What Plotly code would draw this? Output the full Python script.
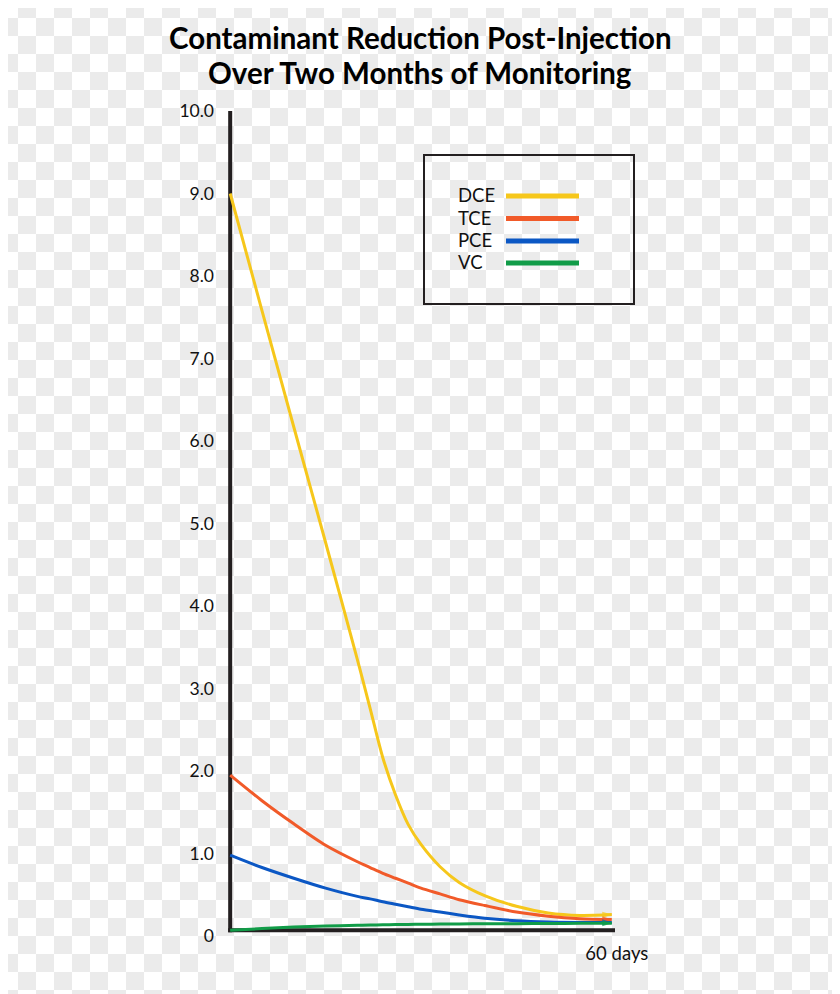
import base64
import plotly.graph_objects as go

# ---- data ----
days = [0, 5, 10, 15, 20, 22, 24, 26, 28, 30, 33, 36, 40, 45, 50, 55, 60]
dce = [9.0, 7.58, 6.17, 4.77, 3.35, 2.76, 2.16, 1.71, 1.35, 1.11, 0.84, 0.65, 0.49, 0.36, 0.28, 0.25, 0.26]
tce = [1.95, 1.64, 1.36, 1.10, 0.90, 0.83, 0.76, 0.70, 0.64, 0.58, 0.51, 0.44, 0.37, 0.29, 0.24, 0.21, 0.20]
pce = [0.98, 0.83, 0.70, 0.58, 0.48, 0.45, 0.415, 0.385, 0.355, 0.325, 0.29, 0.255, 0.215, 0.185, 0.17, 0.165, 0.165]
vc = [0.07, 0.09, 0.108, 0.12, 0.13, 0.133, 0.136, 0.138, 0.14, 0.142, 0.144, 0.146, 0.148, 0.15, 0.152, 0.154, 0.155]

series_names = ["DCE", "TCE", "PCE", "VC"]
series_values = [dce, tce, pce, vc]
series_colors = ["#f6c71b", "#f15a29", "#0b57c4", "#119c48"]

y_tickvals = [0, 1, 2, 3, 4, 5, 6, 7, 8, 9, 10]
y_ticktext = ["0", "1.0", "2.0", "3.0", "4.0", "5.0", "6.0", "7.0", "8.0", "9.0", "10.0"]
x_tickvals = [60]
x_ticktext = ["60 days"]

title_lines = ["Contaminant Reduction Post-Injection", "Over Two Months of Monitoring"]

# ---- layout geometry (page pixels; the page body adds an 8px margin) ----
OFF = 8
PAGE_W, PAGE_H = 840, 994
W, H = PAGE_W - OFF, PAGE_H - OFF
PLOT_L, PLOT_R, PLOT_T, PLOT_B = 227, 615, 111, 936   # page pixels
ML, MR, MT, MB = PLOT_L - OFF, PAGE_W - PLOT_R, PLOT_T - OFF, PAGE_H - PLOT_B
PW, PH = W - ML - MR, H - MT - MB
AXIS = "#231f20"
FONT = "Lato"


def px_to_paper_x(px):
    return (px - PLOT_L) / PW


def py_to_paper_y(py):
    return (PLOT_B - py) / PH


fig = go.Figure()

for name, vals, col in zip(series_names, series_values, series_colors):
    n = len(vals)
    fig.add_trace(go.Scatter(
        x=days, y=vals, name=name, mode="lines+markers",
        line=dict(color=col, width=3, shape="spline", smoothing=0.8),
        marker=dict(symbol="arrow", size=[0] * (n - 1) + [10], angleref="previous",
                    color=col, line=dict(width=0)),
        hoverinfo="skip", showlegend=False,
    ))

# checkerboard background (transparency pattern of the source image)
svg = (
    '<svg xmlns="http://www.w3.org/2000/svg" width="%d" height="%d">'
    '<defs><pattern id="p" x="-8" y="-8" width="36" height="36" patternUnits="userSpaceOnUse">'
    '<rect width="36" height="36" fill="#ffffff"/>'
    '<rect x="18" y="0" width="18" height="18" fill="#ebebeb"/>'
    '<rect x="0" y="18" width="18" height="18" fill="#ebebeb"/>'
    '</pattern></defs><rect width="%d" height="%d" fill="url(#p)"/></svg>'
) % (W, H, W, H)
src = "data:image/svg+xml;base64," + base64.b64encode(svg.encode()).decode()
fig.add_layout_image(dict(
    source=src, xref="paper", yref="paper",
    x=px_to_paper_x(OFF), y=py_to_paper_y(OFF),
    sizex=W / PW, sizey=H / PH, xanchor="left", yanchor="top",
    sizing="stretch", layer="below",
))

# axis lines
fig.add_shape(type="line", xref="x", yref="y", x0=0, x1=0, y0=0.045, y1=10,
              line=dict(color=AXIS, width=4), layer="below")
fig.add_shape(type="line", xref="x", yref="y", x0=-0.32, x1=60.5, y0=0.07, y1=0.07,
              line=dict(color=AXIS, width=4), layer="below")

# title (two centred lines)
for line, cy in zip(title_lines, [37, 73]):
    fig.add_annotation(x=px_to_paper_x(420), y=py_to_paper_y(cy), xref="paper", yref="paper",
                       text="<b>%s</b>" % line, showarrow=False, xanchor="center", yanchor="middle",
                       font=dict(family=FONT, size=29.5, color="#000000"))

# custom legend (text then swatch)
fig.add_shape(type="rect", xref="paper", yref="paper",
              x0=px_to_paper_x(424), x1=px_to_paper_x(634),
              y0=py_to_paper_y(304), y1=py_to_paper_y(155),
              line=dict(color=AXIS, width=2), fillcolor="rgba(0,0,0,0)")
legend_rows = [196, 218.5, 241, 263]
for name, col, ry in zip(series_names, series_colors, legend_rows):
    fig.add_annotation(x=px_to_paper_x(456), y=py_to_paper_y(ry - 1), xref="paper", yref="paper",
                       text=name, showarrow=False, xanchor="left", yanchor="middle",
                       font=dict(family=FONT, size=18.5, color="#111111"))
    fig.add_shape(type="line", xref="paper", yref="paper",
                  x0=px_to_paper_x(506), x1=px_to_paper_x(579),
                  y0=py_to_paper_y(ry), y1=py_to_paper_y(ry),
                  line=dict(color=col, width=5))

fig.update_layout(
    width=W, height=H,
    margin=dict(l=ML, r=MR, t=MT, b=MB, pad=0),
    paper_bgcolor="#ffffff", plot_bgcolor="rgba(0,0,0,0)",
    xaxis=dict(range=[-0.5, 60.5], showgrid=False, zeroline=False, showline=False,
               tickvals=x_tickvals, ticktext=x_ticktext, ticks="",
               ticklabelshift=5, ticklabelstandoff=4,
               tickfont=dict(family=FONT, size=18.5, color="#111111")),
    yaxis=dict(range=[0, 10], showgrid=False, zeroline=False, showline=False,
               tickvals=y_tickvals, ticktext=y_ticktext, ticks="",
               ticklabelstandoff=12,
               tickfont=dict(family=FONT, size=17.5, color="#111111")),
    showlegend=False,
)

fig.write_html("out.html")
